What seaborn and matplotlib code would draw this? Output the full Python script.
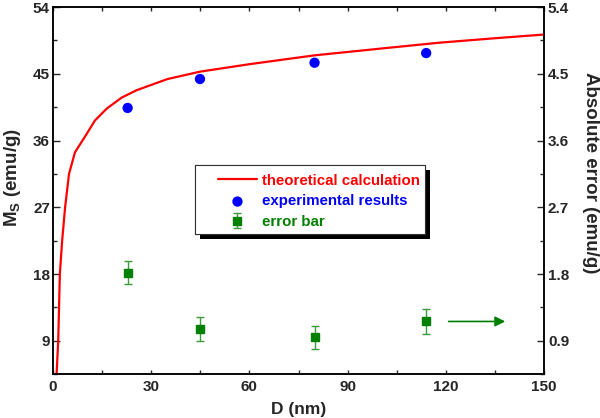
import matplotlib
matplotlib.use('Agg')
import matplotlib.pyplot as plt
import matplotlib.patheffects as pe
from matplotlib.patches import Rectangle
from matplotlib.ticker import MultipleLocator, FormatStrFormatter
import numpy as np
import pandas as pd
import seaborn as sns

#%% Data

# theoretical curve, Ms vs particle size
theory_D = [1.1, 1.6, 2.1, 2.8, 3.7, 4.9, 6.7, 10.3, 12.8, 16.4, 21.0, 25.6,
            35, 45, 60, 80, 100, 118, 135, 150]
theory_Ms = [4.5, 9.0, 18.0, 22.5, 27.0, 31.5, 34.4, 36.9, 38.7, 40.3, 41.8, 42.8,
             44.3, 45.3, 46.3, 47.5, 48.4, 49.2, 49.8, 50.3]

# experimental points
exp_D = [22.8, 44.9, 79.9, 114.0]
exp_Ms = [40.4, 44.3, 46.5, 47.8]

# absolute error (right axis) and its error bars
err_val = [1.82, 1.06, 0.945, 1.16]
err_bar = [0.16, 0.16, 0.16, 0.165]

labels = ['theoretical calculation', 'experimental results', 'error bar']
label_colors = ['#ff0000', '#0000ff', '#008000']

theory = pd.DataFrame({'D': theory_D, 'Ms': theory_Ms})
exper = pd.DataFrame({'D': exp_D, 'Ms': exp_Ms})

#%% Style

sns.set_style('ticks')
plt.rcParams['font.family'] = ['Liberation Sans', 'DejaVu Sans']
plt.rcParams['font.weight'] = 'bold'
plt.rcParams['axes.labelweight'] = 'bold'
plt.rcParams['mathtext.fontset'] = 'custom'
plt.rcParams['mathtext.rm'] = 'Liberation Sans:bold'
plt.rcParams['mathtext.it'] = 'Liberation Sans:bold'
plt.rcParams['mathtext.bf'] = 'Liberation Sans:bold'

fig, ax = plt.subplots(figsize=(6, 4.18), dpi=100)
fig.subplots_adjust(left=0.0883, right=0.9067, bottom=0.105, top=0.983)
ax2 = ax.twinx()

#%% Plot

sns.lineplot(data=theory, x='D', y='Ms', ax=ax, color='#ff0000', lw=1.6,
             label=labels[0], legend=False, zorder=3)
sns.scatterplot(data=exper, x='D', y='Ms', ax=ax, color='#0000ff', s=55,
                edgecolor='none', label=labels[1], legend=False, zorder=4)

ax2.errorbar(exp_D, err_val, yerr=err_bar, fmt='s', color='#008000',
             ecolor='#3c9c3c', elinewidth=1.0, capsize=3, capthick=1.0,
             markersize=6, label=labels[2])

# arrow pointing at the right axis
ax2.annotate('', xy=(139, err_val[3]), xytext=(120, err_val[3]),
             arrowprops=dict(arrowstyle='-|>', color='#008000', lw=1.2,
                             mutation_scale=15))

#%% Axes settings

ax.set_xlim(0, 150)
ax.set_ylim(4.5, 54)
ax2.set_ylim(0.45, 5.4)

ax.xaxis.set_major_locator(MultipleLocator(30))
ax.xaxis.set_minor_locator(MultipleLocator(15))
ax.yaxis.set_major_locator(MultipleLocator(9))
ax.yaxis.set_minor_locator(MultipleLocator(4.5))
ax2.yaxis.set_major_locator(MultipleLocator(0.9))
ax2.yaxis.set_minor_locator(MultipleLocator(0.45))
ax2.yaxis.set_major_formatter(FormatStrFormatter('%.1f'))

# all ticks point inward
ax.tick_params(axis='x', which='both', direction='in', top=True, length=2.8,
               width=1, labelsize=11, pad=4)
ax.tick_params(axis='y', which='major', direction='in', length=4.8, width=1,
               labelsize=11, right=False, pad=2.2)
ax.tick_params(axis='y', which='minor', direction='in', length=3, width=1, right=False)
ax2.tick_params(axis='y', which='major', direction='in', length=4.8, width=1,
                labelsize=11, pad=2.8)
ax2.tick_params(axis='y', which='minor', direction='in', length=3, width=1)

for a in (ax, ax2):
    for s in a.spines.values():
        s.set_linewidth(1.1)
        s.set_color('black')
    for t in a.get_xticklabels() + a.get_yticklabels():
        t.set_fontweight('bold')

ax.set_xlabel('D (nm)', fontsize=12.5)
ax.xaxis.set_label_coords(0.5, -0.075)
ax.set_ylabel(r'M$_\mathrm{S}$ (emu/g)', fontsize=13.5, va='center')
ax.yaxis.set_label_coords(-0.083, 0.535)
ax2.set_ylabel('Absolute error (emu/g)', fontsize=13.5, rotation=270, va='center')
ax2.yaxis.set_label_coords(1.095, 0.55)

#%% Legend box with a hard black shadow

box = Rectangle((0.289, 0.381), 0.469, 0.188, transform=ax2.transAxes,
                facecolor='white', edgecolor='#333333', lw=0.8, zorder=5)
box.set_path_effects([pe.withSimplePatchShadow(offset=(3.6, -3.6),
                                               shadow_rgbFace='black', alpha=1),
                      pe.Normal()])
ax2.add_patch(box)

h1, l1 = ax.get_legend_handles_labels()
h2, l2 = ax2.get_legend_handles_labels()
leg = ax2.legend(h1 + h2, l1 + l2, loc='upper left', bbox_to_anchor=(0.336, 0.546),
                 frameon=False, borderpad=0, borderaxespad=0, handlelength=2.6,
                 handletextpad=0.33, labelspacing=0.45, labelcolor=label_colors,
                 prop={'weight': 'bold', 'size': 10.8})
leg.set_zorder(6)

fig.savefig('out.png', dpi=100)
